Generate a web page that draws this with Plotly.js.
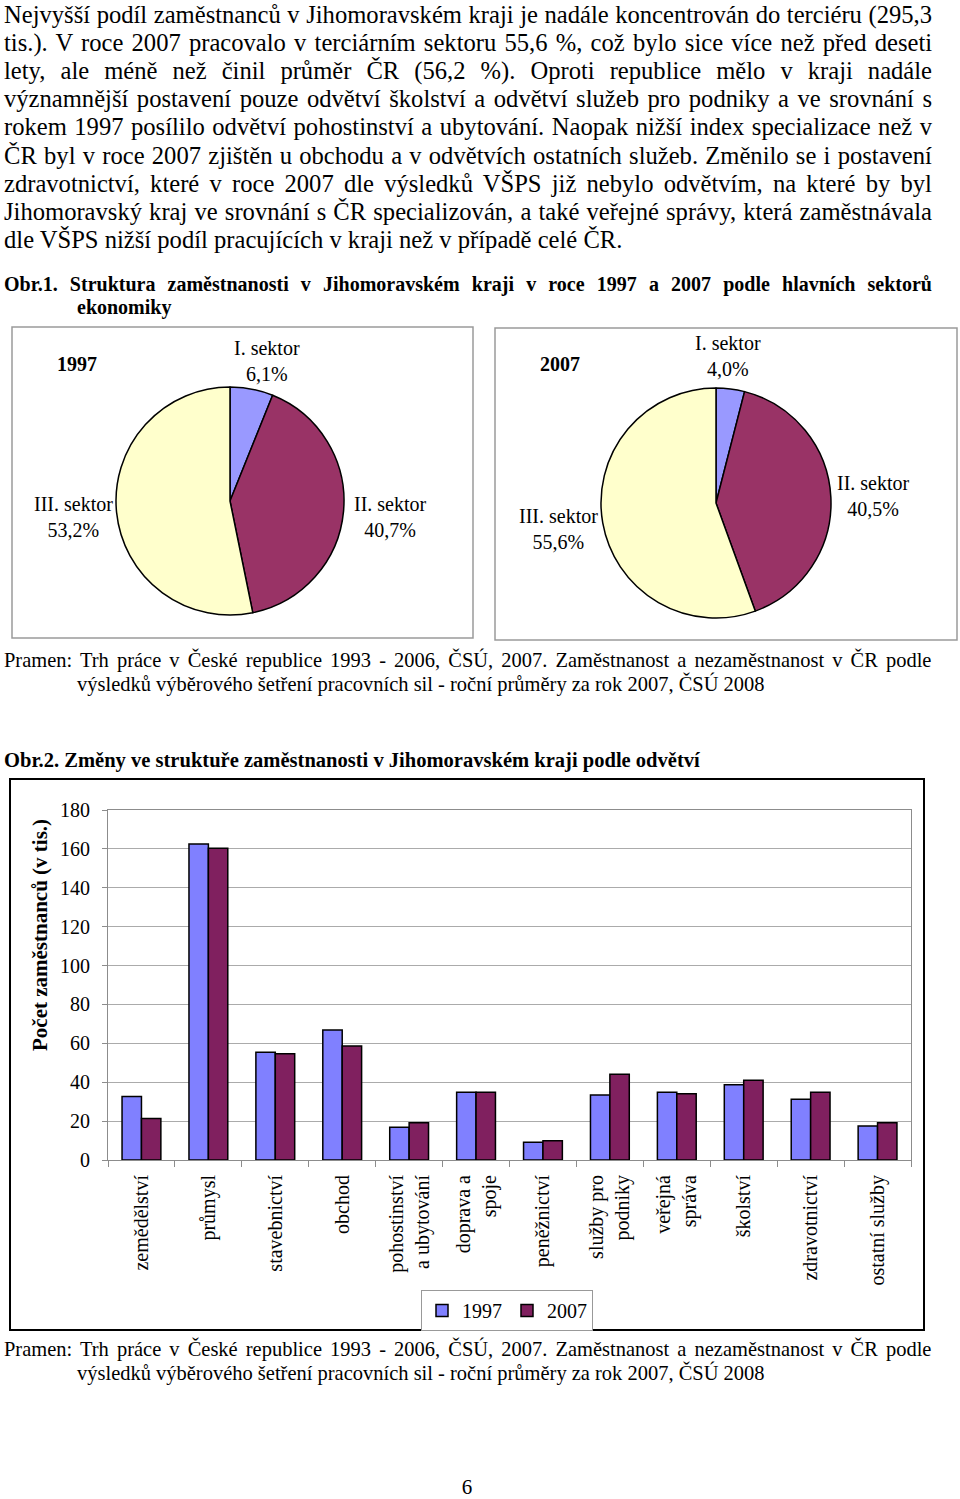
<!DOCTYPE html>
<html><head><meta charset="utf-8">
<script src="https://cdn.plot.ly/plotly-3.0.1.min.js"></script>
<style>
html,body{margin:0;padding:0;background:#fff;}
#page{position:relative;width:960px;height:1499px;overflow:hidden;background:#fff;}
#chart{position:absolute;left:0;top:0;width:960px;height:1499px;}
#txt{position:absolute;left:0;top:0;width:960px;height:1499px;pointer-events:none;}
#txt text{font-family:'Liberation Serif','Times New Roman',serif;}
</style></head><body>
<div id="page"><div id="chart"></div><svg id="txt" width="960" height="1499" xmlns="http://www.w3.org/2000/svg"></svg></div>
<script>
// ---- data ----
const years = ['1997', '2007'];
const sectors = ['I. sektor', 'II. sektor', 'III. sektor'];
const share1997 = [6.1, 40.7, 53.2];
const share2007 = [4.0, 40.5, 55.6];
const branches = ['zemědělství', 'průmysl', 'stavebnictví', 'obchod', 'pohostinství<br>a ubytování',
  'doprava a<br>spoje', 'peněžnictví', 'služby pro<br>podniky', 'veřejná<br>správa', 'školství',
  'zdravotnictví', 'ostatní služby'];
const emp1997 = [32.6, 162.5, 55.4, 66.9, 16.8, 34.8, 9.1, 33.4, 34.8, 38.7, 31.2, 17.5];
const emp2007 = [21.4, 160.3, 54.7, 58.6, 19.2, 34.8, 9.9, 44.1, 34.1, 41.0, 34.8, 19.2];
const yTicks = [0, 20, 40, 60, 80, 100, 120, 140, 160, 180];
const yTitle = 'Počet zaměstnanců (v tis.)';

const paragraph = [
  'Nejvyšší podíl zaměstnanců v Jihomoravském kraji je nadále koncentrován do terciéru (295,3',
  'tis.). V roce 2007 pracovalo v terciárním sektoru 55,6 %, což bylo sice více než před deseti',
  'lety, ale méně než činil průměr ČR (56,2 %). Oproti republice mělo v kraji nadále',
  'významnější postavení pouze odvětví školství a odvětví služeb pro podniky a ve srovnání s',
  'rokem 1997 posílilo odvětví pohostinství a ubytování. Naopak nižší index specializace než v',
  'ČR byl v roce 2007 zjištěn u obchodu a v odvětvích ostatních služeb. Změnilo se i postavení',
  'zdravotnictví, které v roce 2007 dle výsledků VŠPS již nebylo odvětvím, na které by byl',
  'Jihomoravský kraj ve srovnání s ČR specializován, a také veřejné správy, která zaměstnávala',
  'dle VŠPS nižší podíl pracujících v kraji než v případě celé ČR.'
];
const caption1 = ['Obr.1. Struktura zaměstnanosti v Jihomoravském kraji v roce 1997 a 2007 podle hlavních sektorů', 'ekonomiky'];
const caption2 = 'Obr.2. Změny ve struktuře zaměstnanosti v Jihomoravském kraji podle odvětví';
const source = ['Pramen: Trh práce v České republice 1993 - 2006, ČSÚ, 2007. Zaměstnanost a nezaměstnanost v ČR podle',
  'výsledků výběrového šetření pracovních sil - roční průměry za rok 2007, ČSÚ 2008'];
const pageNo = '6';

// ---- helpers ----
const W = 960, H = 1499;
const px = x => x / W;
const py = y => 1 - y / H;
const FONT = "'Liberation Serif', 'Times New Roman', serif";
const pieColors = ['#9999FF', '#993366', '#FFFFCC'];
const fmt = v => v.toFixed(1).replace('.', ',') + '%';

function pieTrace(vals, cx, cy, r) {
  return {
    type: 'pie', labels: sectors, values: vals, sort: false, direction: 'clockwise', rotation: 0,
    marker: {colors: pieColors, line: {color: '#000', width: 1.5}},
    textinfo: 'none', hoverinfo: 'none', showlegend: false,
    domain: {x: [px(cx - r), px(cx + r)], y: [py(cy + r), py(cy - r)]}
  };
}

const traces = [
  pieTrace(share1997, 230, 501, 114),
  pieTrace(share2007, 716, 503, 115),
  {type: 'bar', x: branches, y: emp1997, name: years[0], xaxis: 'x', yaxis: 'y',
    marker: {color: '#8080FF', line: {color: '#000', width: 1.5}}, hoverinfo: 'none'},
  {type: 'bar', x: branches, y: emp2007, name: years[1], xaxis: 'x', yaxis: 'y',
    marker: {color: '#80205F', line: {color: '#000', width: 1.5}}, hoverinfo: 'none'}
];

function lab(text, x, y, size, bold) {
  return {text: bold ? '<b>' + text + '</b>' : text, x: px(x), y: py(y), xref: 'paper', yref: 'paper',
    showarrow: false, xanchor: 'center', yanchor: 'middle', font: {family: FONT, size: size, color: '#000'}};
}
const pl = (i, vals) => sectors[i] + '<br>' + fmt(vals[i]);

const yTitleAnn = lab(yTitle, 40, 935, 21, true);
yTitleAnn.textangle = -90;

const annotations = [
  lab(years[0], 77, 364, 20, true),
  lab(pl(0, share1997), 267, 361, 20),
  lab(pl(1, share1997), 390, 517, 20),
  lab(pl(2, share1997), 73, 517, 20),
  lab(years[1], 560, 364, 20, true),
  lab(pl(0, share2007), 728, 356, 20),
  lab(pl(1, share2007), 873, 496, 20),
  lab(pl(2, share2007), 558, 529, 20),
  yTitleAnn
];

function rect(x0, y0, x1, y1, color, width) {
  return {type: 'rect', xref: 'paper', yref: 'paper', x0: px(x0), x1: px(x1), y0: py(y1), y1: py(y0),
    line: {color: color, width: width}, fillcolor: 'rgba(0,0,0,0)', layer: 'below'};
}

const layout = {
  width: W, height: H, margin: {l: 0, r: 0, t: 0, b: 0, pad: 0},
  paper_bgcolor: '#fff', plot_bgcolor: '#fff',
  font: {family: FONT, size: 20, color: '#000'},
  barmode: 'group', bargap: 0.42, bargroupgap: 0,
  showlegend: true,
  legend: {orientation: 'h', x: px(507), y: py(1290), xanchor: 'center', yanchor: 'top',
    bordercolor: '#999', borderwidth: 1, bgcolor: '#fff', font: {size: 20, family: FONT},
    itemwidth: 30, traceorder: 'normal'},
  xaxis: {domain: [px(108), px(911)], anchor: 'y', type: 'category', tickangle: -90,
    tickfont: {size: 20, family: FONT}, showline: true, linecolor: '#8c8c8c', linewidth: 1, mirror: true,
    ticks: 'outside', ticklen: 6, tickcolor: '#8c8c8c', tickson: 'boundaries', showgrid: false,
    automargin: false, ticklabelstandoff: 6, fixedrange: true},
  yaxis: {domain: [py(1160), py(810)], anchor: 'x', range: [0, 180], tickvals: yTicks,
    ticks: 'outside', ticklen: 5, tickcolor: '#8c8c8c', gridcolor: '#ababab', gridwidth: 1,
    showline: true, linecolor: '#8c8c8c', mirror: true, zeroline: false,
    tickfont: {size: 20, family: FONT}, automargin: false, ticklabelstandoff: 8, fixedrange: true},
  annotations: annotations,
  shapes: [
    rect(12, 327, 473, 638, '#9a9a9a', 1.5),
    rect(495, 328, 957, 640, '#9a9a9a', 1.5),
    rect(10, 779, 924, 1330, '#000', 2)
  ]
};

Plotly.newPlot('chart', traces, layout, {staticPlot: true, displayModeBar: false});

// ---- text overlay ----
const NS = 'http://www.w3.org/2000/svg';
const svg = document.getElementById('txt');
function addLine(o) {
  const t = document.createElementNS(NS, 'text');
  t.setAttribute('x', o.x); t.setAttribute('y', o.y);
  t.style.fontFamily = FONT;
  t.style.fontSize = o.size + 'px';
  t.setAttribute('fill', '#000');
  if (o.bold) t.style.fontWeight = 'bold';
  if (o.anchor) t.setAttribute('text-anchor', o.anchor);
  t.textContent = o.text;
  svg.appendChild(t);
  const nat = t.getComputedTextLength();
  let s = o.scale || 1;
  if (o.fit) s = o.fit / nat;
  if (s !== 1) t.setAttribute('transform', 'translate(' + o.x + ' ' + o.y + ') scale(' + s + ' 1) translate(' + (-o.x) + ' ' + (-o.y) + ')');
  if (o.w) {
    const n = (o.text.match(/ /g) || []).length;
    if (n) t.style.wordSpacing = ((o.w / s - nat) / n).toFixed(2) + 'px';
  }
  return {el: t, nat: nat, s: s};
}

paragraph.forEach((line, i) => {
  addLine({text: line, x: 4, y: 22.5 + i * 28.2, size: 24.6, w: i < paragraph.length - 1 ? 928 : null});
});
addLine({text: caption1[0], x: 4, y: 291, size: 20, bold: true, w: 928});
addLine({text: caption1[1], x: 77, y: 314, size: 20, bold: true});

function sourceBlock(y) {
  const r2 = addLine({text: source[1], x: 77, y: y + 24, size: 21, fit: 688});
  addLine({text: source[0], x: 4, y: y, size: 21, scale: r2.s, w: 928});
}
sourceBlock(667);
addLine({text: caption2, x: 4, y: 767, size: 20, bold: true, fit: 696});
sourceBlock(1356);
addLine({text: pageNo, x: 467, y: 1494, size: 21, anchor: 'middle'});
</script>
</body></html>
